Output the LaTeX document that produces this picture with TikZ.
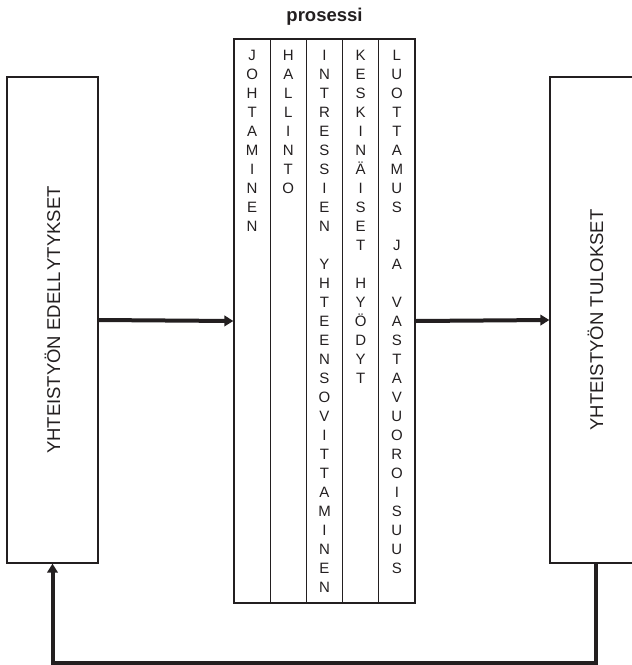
\documentclass[tikz,border=0pt]{standalone}
\usepackage{fontspec}
\setmainfont{Liberation Sans}
\usetikzlibrary{arrows.meta}
\definecolor{ink}{RGB}{35,31,32}
\begin{document}
\begin{tikzpicture}[x=1pt,y=-1pt,
 sidebox/.style={draw=ink, line width=1.3pt, minimum width=91pt, minimum height=486pt, inner sep=0pt},
 colbox/.style={draw=ink, line width=1.3pt, minimum width=36.2pt, minimum height=564pt, inner sep=0pt},
 coltext/.style={anchor=north, inner sep=0pt, align=center, text=ink, font=\fontsize{15}{19}\selectfont},
 sidetext/.style={rotate=90, inner sep=0pt, text=ink, font=\fontsize{18.5}{22}\selectfont},
 flow/.style={draw=ink, line width=4pt, -{Triangle[length=9pt,width=10.5pt]}},
]
\useasboundingbox (0,0) rectangle (632,665);
\clip (0,0) rectangle (632,665);

\node[anchor=base, text=ink, font=\fontsize{18.5}{22}\selectfont\bfseries] (title) at (324.5,21) {prosessi};

% side boxes
\node[sidebox] (lb) at (52.5,320) {};
\node[sidebox] (rb) at (595.5,320) {};
\node[sidetext] (lt) at (lb.center) {YHTEISTYÖN EDELL\kern1.5pt YTYKSET};
\node[sidetext] (rt) at (rb.center) {YHTEISTYÖN TULOKSET};

% process columns
\node[colbox] (c1) at (252.1,321) {};
\node[colbox] (c2) at (288.3,321) {};
\node[colbox] (c3) at (324.5,321) {};
\node[colbox] (c4) at (360.7,321) {};
\node[colbox] (c5) at (396.9,321) {};

\node[coltext] (t1) at (252.1,50) {J\\O\\H\\T\\A\\M\\I\\N\\E\\N};
\node[coltext] (t2) at (288.3,50) {H\\A\\L\\L\\I\\N\\T\\O};
\node[coltext] (t3) at (324.5,50) {I\\N\\T\\R\\E\\S\\S\\I\\E\\N\\~\\Y\\H\\T\\E\\E\\N\\S\\O\\V\\I\\T\\T\\A\\M\\I\\N\\E\\N};
\node[coltext] (t4) at (360.7,50) {K\\E\\S\\K\\I\\N\\Ä\\I\\S\\E\\T\\~\\H\\Y\\Ö\\D\\Y\\T};
\node[coltext] (t5) at (396.9,50) {L\\U\\O\\T\\T\\A\\M\\U\\S\\~\\J\\A\\~\\V\\A\\S\\T\\A\\V\\U\\O\\R\\O\\I\\S\\U\\U\\S};

% connectors
\draw[flow] (lb.east) -- (c1.west);
\draw[flow] (c5.east) -- (rb.west);
\coordinate (fb) at (0,663);
\draw[flow] (rb.south) -- (rb.south |- fb) -| (lb.south);
\end{tikzpicture}
\end{document}
